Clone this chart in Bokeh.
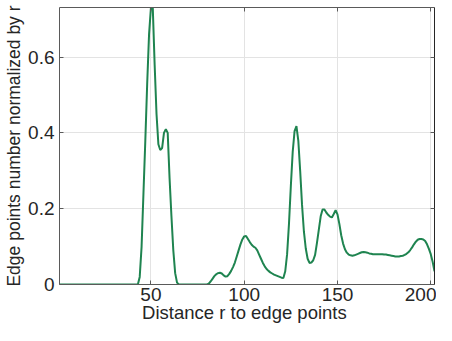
from bokeh.plotting import figure
from bokeh.models import LinearAxis, FixedTicker, ColumnDataSource, CustomJSTickFormatter
from bokeh.embed import file_html
from bokeh.resources import INLINE

# Distance r (pixels) to edge points
r = list(range(1, 203))

# Edge points number normalized by r
values = [
    0, 0, 0, 0, 0, 0, 0, 0, 0, 0,
    0, 0, 0, 0, 0, 0, 0, 0, 0, 0,
    0, 0, 0, 0, 0, 0, 0, 0, 0, 0,
    0, 0, 0, 0, 0, 0, 0, 0, 0, 0,
    0, 0, 0,
    0.02, 0.10, 0.24, 0.38, 0.53, 0.66, 0.73, 0.73, 0.58, 0.45,
    0.37, 0.355, 0.36, 0.40, 0.41, 0.40, 0.28, 0.18, 0.09, 0.03,
    0.005,
    0, 0, 0, 0, 0, 0, 0, 0, 0, 0, 0, 0, 0, 0, 0, 0,
    0.002, 0.008, 0.015, 0.022, 0.027, 0.030, 0.031, 0.029, 0.024, 0.021,
    0.022, 0.028, 0.036, 0.046, 0.058, 0.074, 0.090, 0.106, 0.119, 0.127,
    0.128, 0.120, 0.112, 0.105, 0.100, 0.097, 0.090, 0.079, 0.068, 0.057,
    0.048, 0.041, 0.036, 0.032, 0.029, 0.026, 0.024, 0.022, 0.020, 0.018,
    0.017, 0.035, 0.080, 0.160, 0.260, 0.350, 0.405, 0.418, 0.380, 0.300,
    0.210, 0.140, 0.095, 0.068, 0.057, 0.058, 0.064, 0.078, 0.110, 0.145,
    0.180, 0.198, 0.198, 0.190, 0.184, 0.179, 0.177, 0.186, 0.196, 0.185,
    0.160, 0.130, 0.108, 0.093, 0.084, 0.079, 0.077, 0.076, 0.077, 0.079,
    0.081, 0.083, 0.085, 0.086, 0.085, 0.084, 0.082, 0.081, 0.080, 0.080,
    0.080, 0.080, 0.080, 0.080, 0.079, 0.079, 0.078, 0.077, 0.076, 0.075,
    0.074, 0.074, 0.074, 0.075, 0.076, 0.078, 0.081, 0.085, 0.091, 0.098,
    0.106, 0.113, 0.118, 0.120, 0.120, 0.119, 0.115, 0.106, 0.094, 0.080,
    0.060, 0.035,
]

x_ticks = [50, 100, 150, 200]
y_ticks = [0, 0.2, 0.4, 0.6]
y_tick_labels = {0: "0", 0.2: "0.2", 0.4: "0.4", 0.6: "0.6"}

x_label = "Distance r  to edge points"
y_label = "Edge points number normalized by r"

FONT = "Liberation Sans"
AX = "#5a5a5a"
TXT = "#262626"

src = ColumnDataSource(dict(r=r, v=values))

p = figure(width=436, height=325, x_range=(1, 202), y_range=(0, 0.731),
           output_backend="svg", toolbar_location=None,
           min_border_left=59, min_border_right=2, min_border_top=7,
           min_border_bottom=0)
p.background_fill_color = "white"
p.border_fill_color = "white"
p.outline_line_color = None

p.line("r", "v", source=src, line_color="#1f8450", line_width=2)

for ax in (p.xaxis[0], p.yaxis[0]):
    ax.major_tick_in = 4
    ax.major_tick_out = 0
    ax.minor_tick_in = 0
    ax.minor_tick_out = 0
    ax.axis_line_color = AX
    ax.major_tick_line_color = AX
    ax.major_label_text_font = FONT
    ax.major_label_text_font_size = "19px"
    ax.major_label_text_color = TXT
    ax.axis_label_text_font = FONT
    ax.axis_label_text_font_style = "normal"
    ax.axis_label_text_color = TXT

p.xaxis[0].axis_label_text_font_size = "18.5px"
p.yaxis[0].axis_label_text_font_size = "17.5px"
p.xaxis[0].ticker = FixedTicker(ticks=x_ticks)
p.yaxis[0].ticker = FixedTicker(ticks=y_ticks)
p.yaxis[0].major_label_overrides = y_tick_labels
p.xaxis[0].axis_label = x_label
p.yaxis[0].axis_label = y_label
p.xaxis[0].major_label_standoff = 3
p.xaxis[0].axis_label_standoff = -2
p.yaxis[0].major_label_standoff = 5
p.yaxis[0].axis_label_standoff = 1

blank = CustomJSTickFormatter(code="return '';")
top = LinearAxis(ticker=FixedTicker(ticks=x_ticks), formatter=blank,
                 major_label_text_font_size="1px",
                 major_label_standoff=0, major_tick_in=4, major_tick_out=0,
                 minor_tick_in=0, minor_tick_out=0, axis_line_color=AX,
                 major_tick_line_color=AX)
right = LinearAxis(ticker=FixedTicker(ticks=y_ticks), formatter=blank,
                   major_label_text_font_size="1px",
                   major_label_standoff=0, major_tick_in=4, major_tick_out=0,
                   minor_tick_in=0, minor_tick_out=0, axis_line_color="#262626",
                   major_tick_line_color=AX)
p.add_layout(top, "above")
p.add_layout(right, "right")

p.xgrid.ticker = FixedTicker(ticks=x_ticks)
p.ygrid.ticker = FixedTicker(ticks=y_ticks)
p.grid.grid_line_color = "#e3e3e3"
p.grid.grid_line_width = 1

open("out.html", "w").write(file_html(p, INLINE))
